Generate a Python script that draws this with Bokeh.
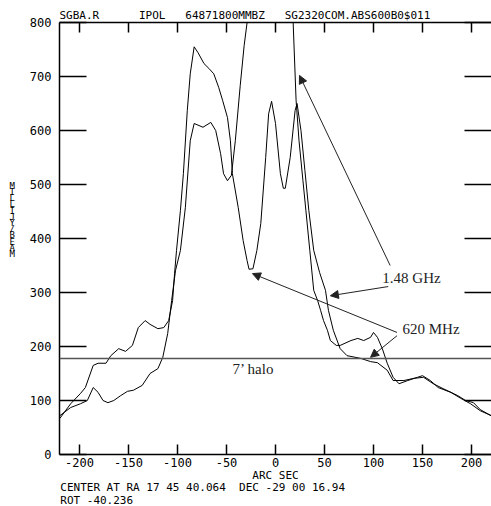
from bokeh.plotting import figure
from bokeh.models import LinearAxis, FixedTicker, Range1d, Label, Span, Arrow, NormalHead, Title
from bokeh.embed import file_html
from bokeh.resources import INLINE

# ---- data (arc sec, milliJy/beam) ----
x_620 = [-220, -209, -199, -194, -186, -181, -173, -168, -160, -153, -146, -140, -133, -128, -120,
         -114, -109, -105, -103, -101, -97, -94, -90, -87, -83, -79, -73, -68, -63, -58, -54, -49,
         -46, -44, -38, -33, -29, -27, -23, -19, -15, -10, -7, -4, 0, 5, 8, 10, 15, 20, 22, 26, 30,
         34, 39, 45, 51, 54, 59, 66, 73, 87, 97, 104, 114, 120, 131, 141, 151, 161, 171, 186, 194,
         202, 209, 216, 220]
y_620 = [67, 94, 113, 124, 165, 169, 169, 183, 196, 191, 202, 235, 248, 241, 233,
         235, 248, 285, 335, 378, 452, 520, 637, 705, 755, 744, 724, 715, 705, 680, 656, 624,
         581, 520, 457, 396, 359, 343, 344, 378, 428, 550, 631, 654, 613, 520, 493, 493, 550, 637, 650, 600, 526,
         452, 378, 337, 304, 267, 230, 196, 183, 178, 172, 170, 156, 137, 137, 141, 143, 131, 122, 109, 100,
         96, 83, 76, 72]

x_148 = [-220, -209, -199, -192, -186, -181, -176, -171, -165, -158, -151, -145, -136, -128, -120,
         -115, -110, -106, -102, -97, -92, -87, -83, -74, -66, -61, -56, -53, -49, -45, -41, -36,
         -32, -29, -20, 0, 12, 18, 21, 24, 28, 31, 35, 39, 43, 46, 49, 53, 56, 62, 66, 77, 84, 90,
         97, 100, 104, 109, 114, 120, 126, 135, 145, 150, 158, 166, 179, 189, 199, 209, 220]
y_148 = [72, 87, 94, 100, 124, 115, 100, 96, 100, 109, 117, 119, 128, 150, 159,
         180, 224, 285, 341, 378, 457, 581, 613, 606, 615, 600, 557, 520, 507, 517, 581, 683,
         757, 800, 960, 1100, 1000, 800, 656, 581, 507, 452, 378, 304, 285, 267, 248, 230, 211, 202, 202, 211, 215, 211,
         217, 226, 217, 196, 169, 143, 131, 137, 143, 146, 137, 124, 115, 104, 94, 81, 72]

halo_level = 178

x_ticks = [-200, -150, -100, -50, 0, 50, 100, 150, 200]
x_tick_labels = ["-200", "-150", "-100", "-50", "0", "50", "100", "150", "200"]
y_ticks = [0, 100, 200, 300, 400, 500, 600, 700, 800]
y_tick_labels = ["0", "100", "200", "300", "400", "500", "600", "700", "800"]

header_words = ["SGBA.R", "IPOL", "64871800MMBZ", "SG2320COM.ABS600B0$011"]
header_gaps = [6, 3, 3]
x_label = "ARC SEC"
footer_lines = ["CENTER AT RA 17 45 40.064\u00a0\u00a0DEC -29 00 16.94", "ROT -40.236"]
y_label = "MILLIJY/BEAM"

MONO = "DejaVu Sans Mono"
SERIF = "Liberation Serif"
NB = "\u00a0"
BLOCK = 65  # monospace columns spanning the frame width

p = figure(frame_width=432, frame_height=432,
           x_range=Range1d(-220.4, 220.4), y_range=Range1d(0, 800),
           output_backend="svg", toolbar_location=None,
           x_axis_location=None, y_axis_location=None,
           min_border_left=59, min_border_right=0, min_border_top=22, min_border_bottom=40)
p.outline_line_color = None
p.xgrid.visible = False
p.ygrid.visible = False
p.background_fill_color = "white"
p.border_fill_color = "white"


def style_axis(ax, tick_in):
    ax.major_tick_in = tick_in
    ax.major_tick_out = 0
    ax.minor_tick_in = 0
    ax.minor_tick_out = 0
    ax.axis_line_color = "black"
    ax.axis_line_width = 1.5
    ax.major_tick_line_color = "black"
    ax.major_tick_line_width = 1.5
    ax.major_label_text_font = MONO
    ax.major_label_text_font_size = "12px"
    ax.major_label_text_color = "black"


# stacked vertical label; trailing blank lines lift the letters above the frame centre
left = LinearAxis(ticker=FixedTicker(ticks=y_ticks),
                  major_label_overrides={t: l for t, l in zip(y_ticks, y_tick_labels)},
                  axis_label="\n".join(list(y_label) + [NB] * 6))
style_axis(left, 27)
left.major_label_standoff = 8
left.axis_label_orientation = "horizontal"
left.axis_label_text_font = MONO
left.axis_label_text_font_size = "9px"
left.axis_label_text_font_style = "normal"
left.axis_label_text_color = "black"
left.axis_label_text_line_height = 0.62
left.axis_label_standoff = 12
p.add_layout(left, "left")

right = LinearAxis(ticker=FixedTicker(ticks=y_ticks),
                   major_label_overrides={t: "" for t in y_ticks})
style_axis(right, 27)
right.axis_line_color = None
p.add_layout(right, "right")

# bottom label block: "ARC SEC" centred, footer lines left-aligned (padded to the block width)
pad = (BLOCK - len(x_label)) // 2
block_lines = [NB * pad + x_label + NB * (BLOCK - len(x_label) - pad)]
block_lines += [ln + NB * (BLOCK - len(ln)) for ln in footer_lines]

bottom = LinearAxis(ticker=FixedTicker(ticks=x_ticks),
                    major_label_overrides={t: l for t, l in zip(x_ticks, x_tick_labels)},
                    axis_label="\n".join(block_lines))
style_axis(bottom, 10)
bottom.major_label_standoff = 3
bottom.axis_label_text_font = MONO
bottom.axis_label_text_font_size = "11px"
bottom.axis_label_text_font_style = "normal"
bottom.axis_label_text_color = "black"
bottom.axis_label_text_line_height = 0.98
bottom.axis_label_standoff = -1
p.add_layout(bottom, "below")

top = LinearAxis(ticker=FixedTicker(ticks=x_ticks),
                 major_label_overrides={t: "" for t in x_ticks})
style_axis(top, 10)
p.add_layout(top, "above")

# header line
header = header_words[0]
for gap, w in zip(header_gaps, header_words[1:]):
    header += NB * gap + w
p.add_layout(Title(text=header, align="left", offset=0, standoff=2, text_font=MONO,
                   text_font_size="11px", text_font_style="normal", text_color="black"), "above")

# halo level
p.add_layout(Span(location=halo_level, dimension="width", line_color="#555555", line_width=1.5))

# curves
p.line(x_620, y_620, line_color="black", line_width=1)
p.line(x_148, y_148, line_color="black", line_width=1)

# arrows
for (xs, ys, xe, ye) in [(117, 350, 24.5, 702), (115, 311, 56, 294),
                         (124, 226, -23.5, 335), (124, 220, 97, 180)]:
    p.add_layout(Arrow(x_start=xs, y_start=ys, x_end=xe, y_end=ye,
                       line_color="#222222", line_width=1,
                       end=NormalHead(size=8, fill_color="#222222", line_color="#222222", line_width=1)))

# annotation texts
for (tx, ty, txt) in [(109, 326, "1.48 GHz"), (129.6, 231.5, "620 MHz"), (-43.9, 159, "7\u2019 halo")]:
    p.add_layout(Label(x=tx, y=ty, text=txt, text_font=SERIF, text_font_size="15px",
                       text_color="#222222", text_baseline="middle", text_align="left"))

open("out.html", "w").write(file_html(p, INLINE))
